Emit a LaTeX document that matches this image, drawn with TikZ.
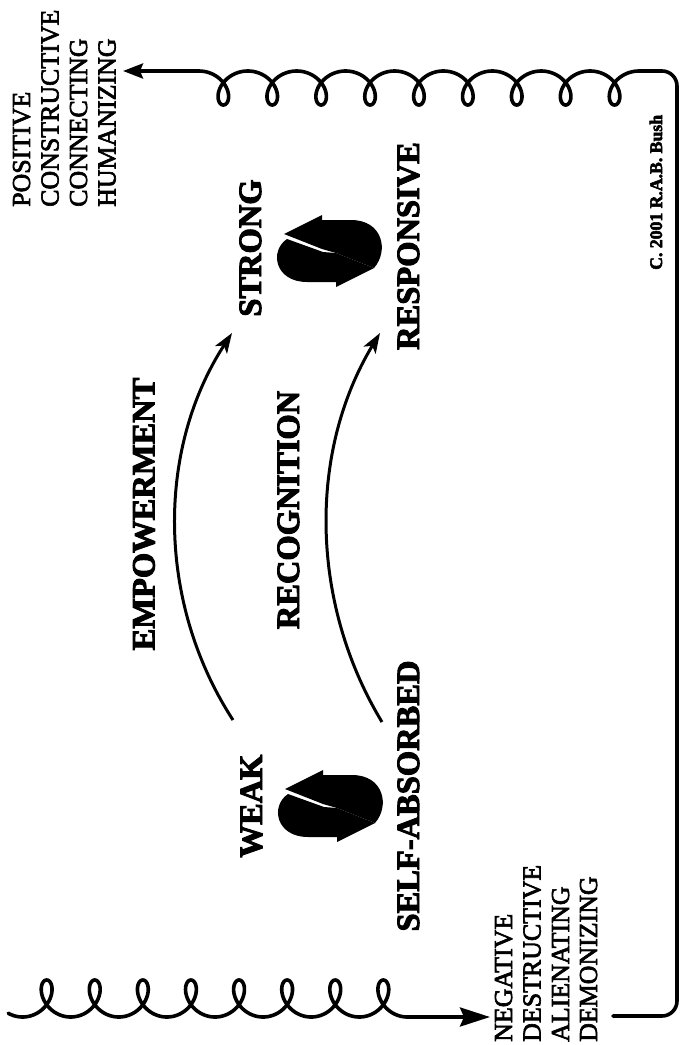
\documentclass[tikz,border=0pt]{standalone}
\usepackage{fontspec}
\setmainfont{Liberation Serif}[BoldFeatures={FakeBold=3}]
\newfontfamily\lblfont{Liberation Serif}[FakeBold=2.5]
\usetikzlibrary{arrows.meta}
\begin{document}
\begin{tikzpicture}[x=1pt,y=-1pt,
  lbl/.style={rotate=90, anchor=base west, inner sep=0pt, font=\lblfont\fontsize{25.9}{30}\selectfont},
  big/.style={rotate=90, anchor=base, inner sep=0pt, font=\bfseries\fontsize{32.5}{36}\selectfont},
  cpy/.style={rotate=90, anchor=base west, inner sep=0pt, font=\bfseries\fontsize{17.7}{20}\selectfont},
  frame/.style={line width=3.6pt, line join=round, line cap=round},
  arcarrow/.style={line width=3pt, -{Stealth[length=20pt,width=14pt,inset=5pt]}},
  cyc/.pic={
    \fill (-45,-17) -- (-7,-36) -- (-7,-31) -- (22,-31) .. controls (54,-31) and (60,0) .. (45,17) -- (7,2) -- (-7,-2) -- cycle;
    \fill (-42,-12) .. controls (-60,0) and (-54,31) .. (-22,31) -- (7,31) -- (7,36) -- (45,17) -- (7,2) -- (-6,1) -- cycle;
  }]
\useasboundingbox (0,0) rectangle (681,1045);
% top label block
\node[lbl] (pos1) at (30,207) {POSITIVE};
\node[lbl] (pos2) at (58.5,207) {CONSTRUCTIVE};
\node[lbl] (pos3) at (87,207) {CONNECTING};
\node[lbl] (pos4) at (115.5,207) {HUMANIZING};
% bottom label block
\node[lbl] (neg1) at (512,1042) {NEGATIVE};
\node[lbl] (neg2) at (540.5,1042) {DESTRUCTIVE};
\node[lbl] (neg3) at (569,1042) {ALIENATING};
\node[lbl] (neg4) at (597,1042) {DEMONIZING};
% big labels
\node[big] (strong) at (261,248) {STRONG};
\node[big] (resp) at (419,246) {RESPONSIVE};
\node[big] (weak) at (262,806) {WEAK};
\node[big] (self) at (419,796) {SELF-ABSORBED};
\node[big] (emp) at (154.5,514) {EMPOWERMENT};
\node[big] (rec) at (299,510) {RECOGNITION};
\node[cpy] (copy) at (662,270) {C. 2001 R.A.B. Bush};
% cycle symbols
\pic at (329,251) {cyc};
\pic at (330,806) {cyc};
% arcs
\coordinate (e1s) at (233,720); \coordinate (e1e) at (232,333);
\coordinate (e2s) at (382,722); \coordinate (e2e) at (380,333);
\draw[arcarrow] (e1s) .. controls (157,603) and (156,450) .. (e1e);
\draw[arcarrow] (e2s) .. controls (310,603) and (308,452) .. (e2e);
% frame
\coordinate (fstart) at (613,1016);
\coordinate (fbr) at (677,1016);
\coordinate (ftr) at (677,71);
\coordinate (cstart) at (639,71);
\coordinate (toptip) at (123,71);
\draw[frame, rounded corners=15pt] (fstart) -- (fbr) -- (ftr) -- (cstart);
% top coil
\draw[frame, -{Stealth[length=20pt,width=15pt,inset=3pt]}] (cstart)
  -- plot[domain=0:56.5487, samples=600] ({639-7.783*\x-15.5*sin(\x r)},{88-17*cos(\x r)}) -- (toptip);
% bottom coil
\coordinate (btip) at (490,1017);
\draw[frame, -{Stealth[length=30pt,width=19pt,inset=4pt]}]
  plot[domain=-0.65:50.2655, samples=600] ({22.6+7.655*\x+15.5*sin(\x r)},{998.5+18.5*cos(\x r)}) -- (btip);
\end{tikzpicture}
\end{document}
